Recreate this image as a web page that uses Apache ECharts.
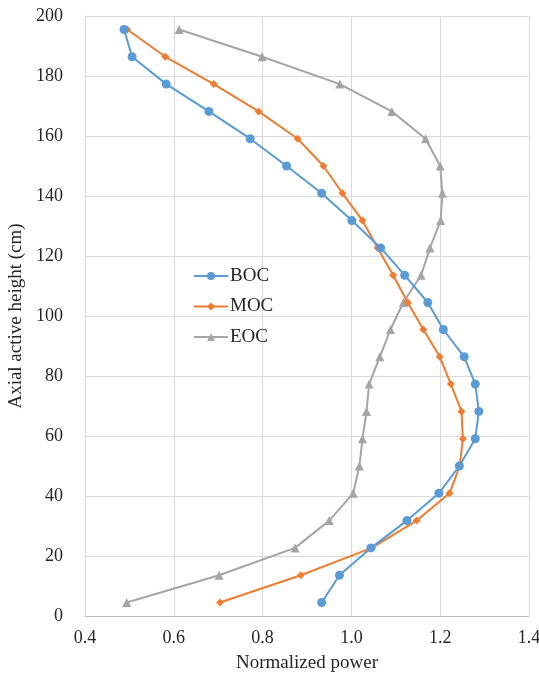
<!DOCTYPE html>
<html>
<head>
<meta charset="utf-8">
<script src="https://cdn.jsdelivr.net/npm/echarts@6/dist/echarts.min.js"></script>
<style>
html,body{margin:0;padding:0;background:#fff;}
#chart{width:539px;height:676px;}
</style>
</head>
<body>
<div id="chart"></div>
<script>
var heights = [4.5, 13.6, 22.7, 31.8, 40.9, 50.0, 59.1, 68.2, 77.3, 86.4, 95.5, 104.5, 113.6, 122.7, 131.8, 140.9, 150.0, 159.1, 168.2, 177.3, 186.4, 195.5];
var boc = [0.933, 0.973, 1.044, 1.125, 1.197, 1.243, 1.279, 1.287, 1.279, 1.254, 1.207, 1.172, 1.120, 1.066, 1.001, 0.933, 0.854, 0.772, 0.679, 0.583, 0.506, 0.488];
var moc = [0.704, 0.886, 1.046, 1.147, 1.221, 1.244, 1.251, 1.248, 1.224, 1.199, 1.162, 1.127, 1.094, 1.059, 1.025, 0.980, 0.937, 0.879, 0.791, 0.690, 0.581, 0.495];
var eoc = [0.494, 0.702, 0.873, 0.950, 1.004, 1.018, 1.025, 1.034, 1.040, 1.064, 1.088, 1.117, 1.157, 1.177, 1.201, 1.205, 1.200, 1.167, 1.091, 0.974, 0.799, 0.612];
var seriesNames = ['BOC', 'MOC', 'EOC'];
var xTitle = 'Normalized power';
var yTitle = 'Axial active height (cm)';

function pairs(xs) { return xs.map(function (v, i) { return [v, heights[i]]; }); }

var font = '"Liberation Serif", "Times New Roman", serif';
var chart = echarts.init(document.getElementById('chart'), null, {renderer: 'canvas'});
var colors = ['#5b9bd5', '#ed7d31', '#a5a5a5'];
var symbols = ['circle', 'diamond', 'triangle'];
var sizes = [9, 8, 9];
var dataSets = [boc, moc, eoc];

chart.setOption({
  animation: false,
  backgroundColor: '#ffffff',
  textStyle: {fontFamily: font},
  grid: {left: 85, right: 10, top: 16, bottom: 60, containLabel: false, outerBoundsMode: 'none'},
  legend: {
    orient: 'vertical',
    left: 188,
    top: 261,
    itemWidth: 34,
    itemHeight: 10,
    itemGap: 10.5,
    backgroundColor: 'transparent',
    textStyle: {fontFamily: font, fontSize: 19, color: '#262626', lineHeight: 20, padding: [0, 0, 0, -3]},
    data: seriesNames
  },
  xAxis: {
    type: 'value',
    min: 0.4, max: 1.4, interval: 0.2,
    name: xTitle,
    nameLocation: 'middle',
    nameGap: 38,
    nameTextStyle: {fontFamily: font, fontSize: 19, color: '#262626'},
    axisLine: {show: true, lineStyle: {color: '#bfbfbf', width: 1}},
    axisTick: {show: false},
    axisLabel: {fontFamily: font, fontSize: 18, color: '#262626', margin: 13,
      formatter: function (v) { return v.toFixed(1); }},
    splitLine: {show: true, lineStyle: {color: '#d9d9d9', width: 1}}
  },
  yAxis: {
    type: 'value',
    min: 0, max: 200, interval: 20,
    name: yTitle,
    nameLocation: 'middle',
    nameGap: 43,
    nameRotate: 90,
    nameTextStyle: {fontFamily: font, fontSize: 19, color: '#262626'},
    axisLine: {show: true, lineStyle: {color: '#d9d9d9', width: 1}},
    axisTick: {show: false},
    axisLabel: {fontFamily: font, fontSize: 18, color: '#262626', margin: 22},
    splitLine: {show: true, lineStyle: {color: '#d9d9d9', width: 1}}
  },
  series: seriesNames.map(function (n, k) {
    return {
      name: n,
      type: 'line',
      data: pairs(dataSets[k]),
      symbol: symbols[k],
      symbolSize: sizes[k],
      showAllSymbol: true,
      lineStyle: {color: colors[k], width: 2},
      itemStyle: {color: colors[k]},
      emphasis: {disabled: true},
      z: 3 - k
    };
  })
});
</script>
</body>
</html>
